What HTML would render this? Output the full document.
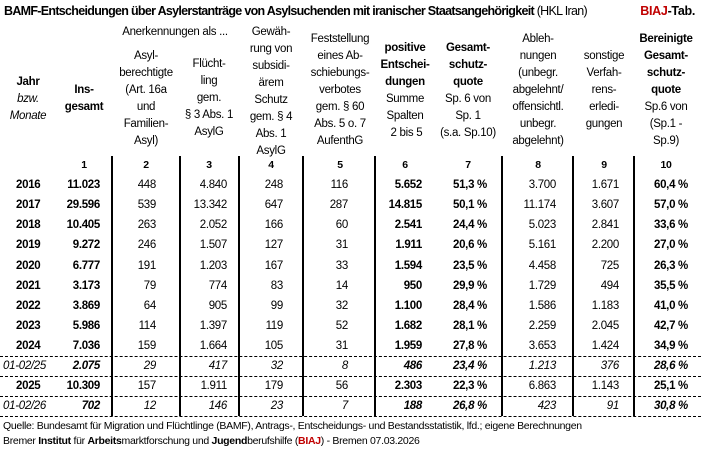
<!DOCTYPE html>
<html><head><meta charset="utf-8"><style>
body{margin:0;background:#fff;}
#c{position:relative;width:701px;height:452px;font-family:"Liberation Sans",sans-serif;font-size:11.5px;color:#000;overflow:hidden;letter-spacing:-0.3px}
.h{position:absolute;text-align:center;line-height:17px;transform:translateX(-50%);white-space:nowrap}
.b{font-weight:bold}
.i{font-style:italic}
.r{position:absolute;text-align:right;white-space:nowrap;line-height:16px}
.vl{position:absolute;top:156px;height:260px;width:2px;background:#000}
.dl{position:absolute;left:0;width:701px;border-top:1px dashed #000;height:0}
.red{color:#c00000}
</style></head><body><div id="c">
<div style="position:absolute;left:4px;top:4px;font-size:12.5px;font-weight:bold;white-space:nowrap;letter-spacing:-0.7px">BAMF-Entscheidungen über Asylerstanträge von Asylsuchenden mit iranischer Staatsangehörigkeit <span style="font-weight:normal">(HKL Iran)</span></div>
<div style="position:absolute;right:6px;top:4px;font-size:12.5px;font-weight:bold"><span class="red">BIAJ</span>-Tab.</div>

<div class="h" style="left:175px;top:24px">Anerkennungen als ...</div>
<div class="h" style="left:28px;top:74px"><span class="b">Jahr</span><br><span class="i">bzw.<br>Monate</span></div>
<div class="h b" style="left:84px;top:82px">Ins-<br>gesamt</div>
<div class="h" style="left:146px;top:48px">Asyl-<br>berechtigte<br>(Art. 16a<br>und<br>Familien-<br>Asyl)</div>
<div class="h" style="left:209px;top:56px">Flücht-<br>ling<br>gem.<br>§ 3 Abs. 1<br>AsylG</div>
<div class="h" style="left:271px;top:24px">Gewäh-<br>rung von<br>subsidi-<br>ärem<br>Schutz<br>gem. § 4<br>Abs. 1<br>AsylG</div>
<div class="h" style="left:340px;top:31px">Feststellung<br>eines Ab-<br>schiebungs-<br>verbotes<br>gem. § 60<br>Abs. 5 o. 7<br>AufenthG</div>
<div class="h" style="left:405px;top:40px"><span class="b">positive<br>Entschei-<br>dungen</span><br>Summe<br>Spalten<br>&nbsp;2 bis 5</div>
<div class="h" style="left:468px;top:40px"><span class="b">Gesamt-<br>schutz-<br>quote</span><br>Sp. 6 von<br>Sp. 1<br>(s.a. Sp.10)</div>
<div class="h" style="left:538px;top:31px">Ableh-<br>nungen<br>(unbegr.<br>abgelehnt/<br>offensichtl.<br>unbegr.<br>abgelehnt)</div>
<div class="h" style="left:604px;top:48px">sonstige<br>Verfah-<br>rens-<br>erledi-<br>gungen</div>
<div class="h" style="left:666px;top:31px"><span class="b">Bereinigte<br>Gesamt-<br>schutz-<br>quote</span><br>Sp.6 von<br>(Sp.1 -<br>Sp.9)</div>

<div class="vl" style="left:111px"></div>
<div class="vl" style="left:179px"></div>
<div class="vl" style="left:238px"></div>
<div class="vl" style="left:302px"></div>
<div class="vl" style="left:374px"></div>
<div class="vl" style="left:501px"></div>
<div class="vl" style="left:572px"></div>
<div class="vl" style="left:633px"></div>

<div class="dl" style="top:356px"></div>
<div class="dl" style="top:376px"></div>
<div class="dl" style="top:396px"></div>
<div class="dl" style="top:416px"></div>

<div id="rows"></div>
<div style="position:absolute;left:3px;top:420px;font-size:10.5px;white-space:nowrap;letter-spacing:-0.3px">Quelle: Bundesamt für Migration und Flüchtlinge (BAMF), Antrags-, Entscheidungs- und Bestandsstatistik, lfd.; eigene Berechnungen</div>
<div style="position:absolute;left:3px;top:435px;font-size:10.5px;white-space:nowrap;letter-spacing:-0.3px">Bremer <b>Institut</b> für <b>Arbeits</b>marktforschung und <b>Jugend</b>berufshilfe (<b class="red">BIAJ</b>) - Bremen 07.03.2026</div>
</div>
<script>
var R=[100,156,227,283,348,422,487,556,619,688];
var data=[
["1","2","3","4","5","6","7","8","9","10"],
["2016","11.023","448","4.840","248","116","5.652","51,3 %","3.700","1.671","60,4 %"],
["2017","29.596","539","13.342","647","287","14.815","50,1 %","11.174","3.607","57,0 %"],
["2018","10.405","263","2.052","166","60","2.541","24,4 %","5.023","2.841","33,6 %"],
["2019","9.272","246","1.507","127","31","1.911","20,6 %","5.161","2.200","27,0 %"],
["2020","6.777","191","1.203","167","33","1.594","23,5 %","4.458","725","26,3 %"],
["2021","3.173","79","774","83","14","950","29,9 %","1.729","494","35,5 %"],
["2022","3.869","64","905","99","32","1.100","28,4 %","1.586","1.183","41,0 %"],
["2023","5.986","114","1.397","119","52","1.682","28,1 %","2.259","2.045","42,7 %"],
["2024","7.036","159","1.664","105","31","1.959","27,8 %","3.653","1.424","34,9 %"],
["01-02/25","2.075","29","417","32","8","486","23,4 %","1.213","376","28,6 %"],
["2025","10.309","157","1.911","179","56","2.303","22,3 %","6.863","1.143","25,1 %"],
["01-02/26","702","12","146","23","7","188","26,8 %","423","91","30,8 %"]];
var cen=[165,185,205,225,245,266,286,306,326,346,366,386,406];
var bold=[1,6,7,10];
var h='';
data.forEach(function(row,ri){
 var y=cen[ri]-8;
 if(ri==0){
  var cx=[84,146,209,271,340,405,468,538,604,666];
  row.forEach(function(t,j){h+='<div class="h b" style="left:'+cx[j]+'px;top:'+(y-0.5)+'px;line-height:16px;font-size:10.5px">'+t+'</div>';});
  return;}
 var it=row[0].indexOf('/')>0;
 var st=it?'font-style:italic;':'';
 h+='<div class="r" style="'+st+(it?'':'font-weight:bold;')+'left:'+(it?3:16)+'px;top:'+y+'px;text-align:left">'+row[0]+'</div>';
 for(var j=1;j<row.length;j++){
  var b=bold.indexOf(j)>=0;
  h+='<div class="r" style="'+st+(b?'font-weight:bold;':'')+'right:'+(701-R[j-1])+'px;top:'+y+'px">'+row[j]+'</div>';
 }
});
document.getElementById('rows').innerHTML=h;
</script>
</body></html>
